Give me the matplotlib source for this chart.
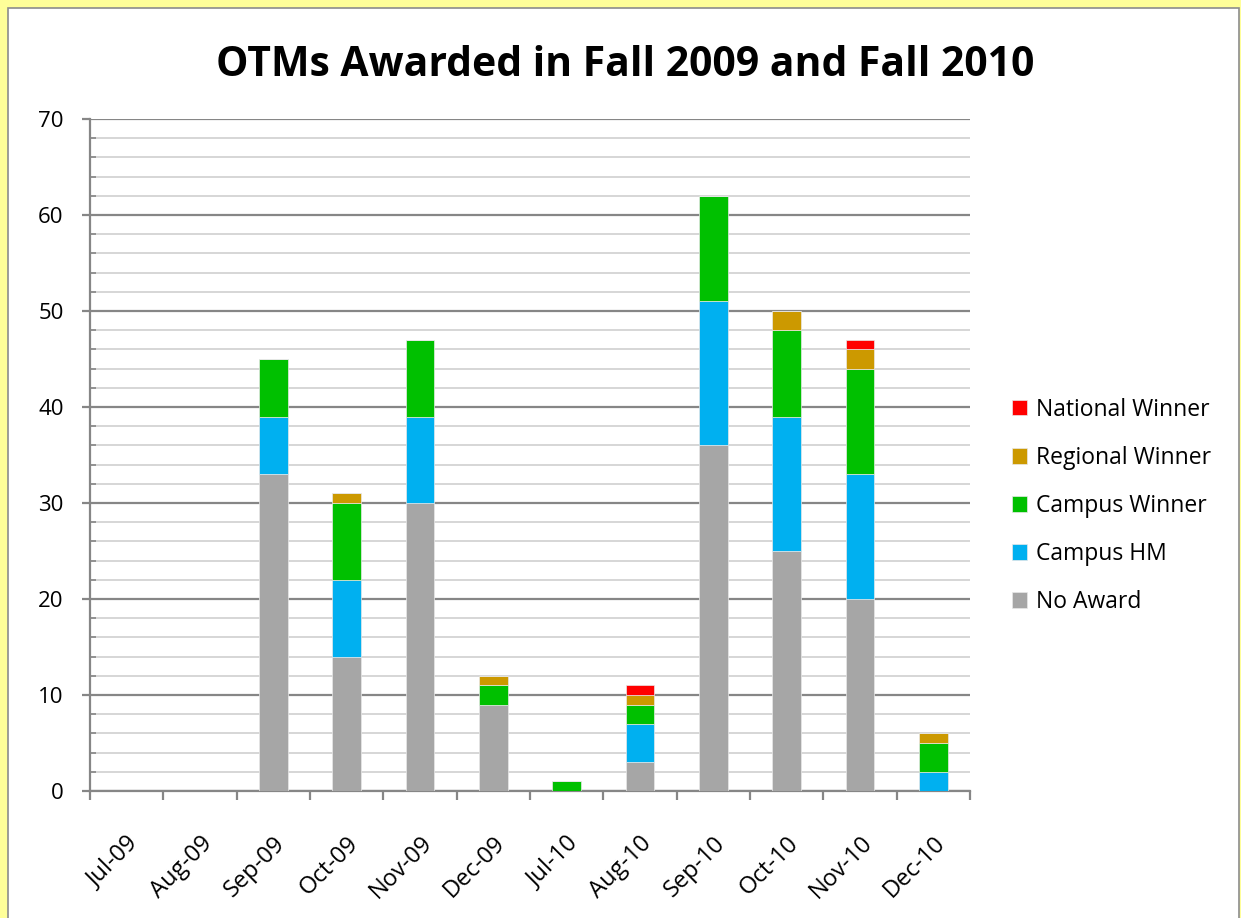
import matplotlib
matplotlib.use('Agg')
import matplotlib.pyplot as plt
from matplotlib.patches import Rectangle
from matplotlib.ticker import MultipleLocator
import numpy as np

plt.rcParams['font.family'] = ['Open Sans', 'DejaVu Sans']

months = ['Jul-09', 'Aug-09', 'Sep-09', 'Oct-09', 'Nov-09', 'Dec-09',
          'Jul-10', 'Aug-10', 'Sep-10', 'Oct-10', 'Nov-10', 'Dec-10']
no_award = [0, 0, 33, 14, 30, 9, 0, 3, 36, 25, 20, 0]
campus_hm = [0, 0, 6, 8, 9, 0, 0, 4, 15, 14, 13, 2]
campus_winner = [0, 0, 6, 8, 8, 2, 1, 2, 11, 9, 11, 3]
regional_winner = [0, 0, 0, 1, 0, 1, 0, 1, 0, 2, 2, 1]
national_winner = [0, 0, 0, 0, 0, 0, 0, 1, 0, 0, 1, 0]

series = [
    ('No Award', no_award, '#a6a6a6'),
    ('Campus HM', campus_hm, '#00b0f0'),
    ('Campus Winner', campus_winner, '#00c000'),
    ('Regional Winner', regional_winner, '#cc9900'),
    ('National Winner', national_winner, '#ff0000'),
]

fig = plt.figure(figsize=(12.41, 9.18), dpi=100, facecolor='#ffff99')
# white chart panel with grey frame
fig.patches.append(Rectangle((8 / 1241, -0.01), 1231 / 1241, 1 - 8 / 918 + 0.01,
                             transform=fig.transFigure, facecolor='white',
                             edgecolor='#8c8c8c', linewidth=1.2, zorder=-10))

ax = fig.add_axes([90 / 1241, 1 - 791 / 918, 880 / 1241, 672 / 918])
ax.set_facecolor('none')

x = np.arange(len(months))
bottom = np.zeros(len(months))
handles = []
for name, vals, color in series:
    vals = np.array(vals, dtype=float)
    b = ax.bar(x, vals, 0.39, bottom=bottom, color=color, label=name,
               edgecolor='#e8e8e8', linewidth=0.5, zorder=3)
    handles.append(b)
    bottom += vals

ax.set_xlim(-0.5, len(months) - 0.5)
ax.set_ylim(0, 70)
ax.yaxis.set_major_locator(MultipleLocator(10))
ax.yaxis.set_minor_locator(MultipleLocator(2))
ax.grid(axis='y', which='major', color='#868686', linewidth=1.6, zorder=1)
ax.grid(axis='y', which='minor', color='#d0d0d0', linewidth=1.2, zorder=1)
ax.tick_params(axis='y', which='major', direction='out', length=6, width=1.6,
               color='#868686', labelsize=16, pad=13)
ax.tick_params(axis='y', which='minor', direction='in', length=4.5, width=1.2,
               color='#868686')

ax.set_xticks(np.arange(len(months) + 1) - 0.5, minor=True)
ax.set_xticks(x)
ax.set_xticklabels(months, rotation=45, ha='right', va='top',
                   rotation_mode='anchor', fontsize=17)
ax.tick_params(axis='x', which='major', length=0, pad=29)
ax.tick_params(axis='x', which='minor', direction='out', length=6.5, width=1.6,
               color='#868686')

for side in ['top', 'right']:
    ax.spines[side].set_visible(False)
for side in ['left', 'bottom']:
    ax.spines[side].set_color('#868686')
    ax.spines[side].set_linewidth(1.6)

fig.text(625 / 1241, 1 - 65 / 918, 'OTMs Awarded in Fall 2009 and Fall 2010',
         ha='center', va='center', fontsize=29.4, fontweight='bold')

leg = fig.legend(handles[::-1], [s[0] for s in series][::-1],
                 loc='center left', bbox_to_anchor=(991 / 1241, 1 - 506 / 918),
                 frameon=False, fontsize=16.5, handlelength=0.65, handleheight=0.65,
                 handletextpad=0.4, labelspacing=1.05)

fig.savefig('out.png', dpi=100, facecolor=fig.get_facecolor())
